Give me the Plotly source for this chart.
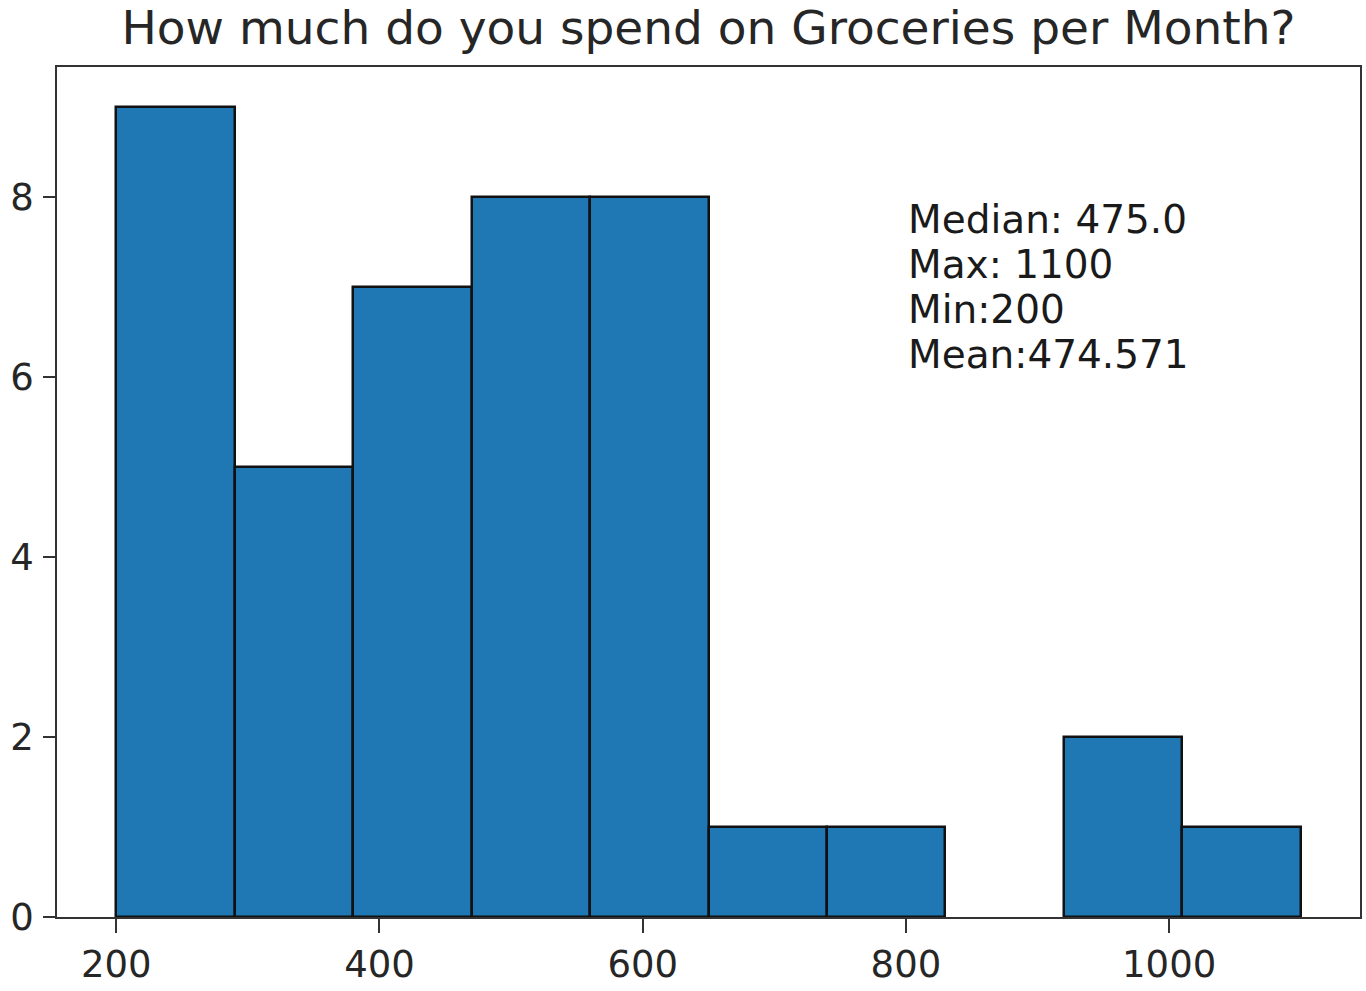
import plotly.graph_objects as go

bin_edges = [200, 290, 380, 470, 560, 650, 740, 830, 920, 1010, 1100]
counts = [9, 5, 7, 8, 8, 1, 1, 0, 2, 1]
x_ticks = [200, 400, 600, 800, 1000]
y_ticks = [0, 2, 4, 6, 8]
title_text = "How much do you spend on Groceries per Month?"
stats_lines = ["Median: 475.0", "Max: 1100", "Min:200", "Mean:474.571"]

lefts = bin_edges[:-1]
widths = [b - a for a, b in zip(bin_edges[:-1], bin_edges[1:])]
edge_widths = [2.5 if c > 0 else 0 for c in counts]

fig = go.Figure()
fig.add_trace(go.Bar(
    x=lefts, y=counts, width=widths, offset=0,
    marker=dict(color="#1f77b4", line=dict(color="#111111", width=edge_widths)),
    showlegend=False, hoverinfo="skip",
))

FONT = "DejaVu Sans"
TXT = "#262626"
fig.update_layout(
    width=1366, height=991,
    margin=dict(l=57, r=6, t=67, b=74, autoexpand=False),
    paper_bgcolor="white", plot_bgcolor="white",
    font=dict(family=FONT, size=37, color=TXT),
    title=dict(text=title_text, x=0.5, xanchor="center", xref="paper",
               y=0.972, yanchor="middle", yref="container",
               font=dict(family=FONT, size=47, color=TXT)),
    bargap=0,
    xaxis=dict(range=[155, 1145], tickvals=x_ticks, ticks="outside", ticklen=14,
               tickwidth=1.5, tickcolor="#333", showline=True, linecolor="#333",
               linewidth=1.5, mirror=True, showgrid=False, zeroline=False,
               automargin=False,
               tickfont=dict(family=FONT, size=37, color=TXT)),
    yaxis=dict(range=[0, 9.45], tickvals=y_ticks, ticks="outside", ticklen=12,
               tickwidth=1.5, tickcolor="#333", showline=True, linecolor="#333",
               linewidth=1.5, mirror=True, showgrid=False, zeroline=False,
               automargin=False, ticklabelstandoff=2,
               tickfont=dict(family=FONT, size=37, color=TXT)),
)

for i, line in enumerate(stats_lines):
    fig.add_annotation(
        x=800, y=8.0, xref="x", yref="y", xanchor="left", yanchor="top",
        yshift=2 - 45 * i, text=line, showarrow=False, align="left",
        font=dict(family=FONT, size=39, color="#1a1a1a"),
    )

fig.write_html(
    "out.html",
    config={"displayModeBar": False},
    post_script="document.body.style.margin='0';document.body.style.overflow='hidden';",
)
